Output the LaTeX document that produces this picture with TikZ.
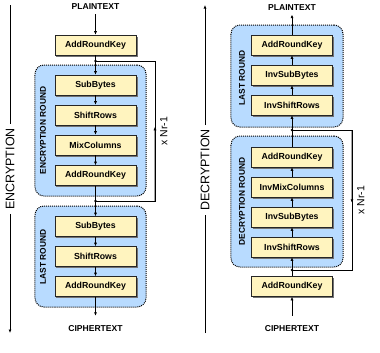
\documentclass[tikz,border=0pt]{standalone}
\usepackage{fontspec}
\setmainfont{Liberation Sans}
\usetikzlibrary{positioning, arrows.meta, calc, shadows}

\definecolor{keyyellow}{RGB}{255,244,191}
\definecolor{roundblue}{RGB}{184,219,255}

\begin{document}
\begin{tikzpicture}[
    x=1bp, y=-1bp,
    >={Latex[length=3.5bp,width=3bp]},
    opbox/.style={
        draw=black!85, line width=0.6bp, fill=keyyellow,
        minimum width=81bp, minimum height=20bp, inner sep=0pt,
        font=\fontsize{8.8}{10}\selectfont\bfseries,
        drop shadow={shadow xshift=1.5bp, shadow yshift=-1.5bp, fill=black!55, opacity=1}
    },
    roundbox/.style={
        draw=black, densely dotted, line width=1bp,
        fill=roundblue, rounded corners=9bp, inner sep=0pt
    },
    roundlbl/.style={rotate=90, font=\fontsize{8.4}{10}\selectfont\bfseries},
    term/.style={font=\fontsize{8.6}{10}\selectfont\bfseries, inner sep=4bp},
    dirlbl/.style={rotate=90, font=\fontsize{12.5}{14}\selectfont, inner sep=4bp},
    arr/.style={->, line width=0.6bp},
    loopline/.style={line width=0.6bp},
    dirline/.style={line width=1bp},
    dot/.style={circle, fill=black, inner sep=0pt, minimum size=2.6bp},
    rep/.style={rotate=90, anchor=north, font=\fontsize{10.5}{12}\selectfont, inner sep=5bp}
]
    \path[use as bounding box, fill=white] (0,0) rectangle (380,353);

    % rounds (background)
    \node[roundbox, minimum width=111bp, minimum height=131bp] (encround) at (90.5,130.5) {};
    \node[roundbox, minimum width=111bp, minimum height=101bp] (elast) at (90.5,256.5) {};
    \node[roundbox, minimum width=112bp, minimum height=102bp] (dlast) at (287,76) {};
    \node[roundbox, minimum width=112bp, minimum height=131bp] (decround) at (287,201.5) {};

    \node[roundlbl] (enclbl) at (43,130.5) {ENCRYPTION ROUND};
    \node[roundlbl] (elastlbl) at (43,257) {LAST ROUND};
    \node[roundlbl] (dlastlbl) at (242,78) {LAST ROUND};
    \node[roundlbl] (declbl) at (242,201.5) {DECRYPTION ROUND};

    % encryption
    \node[term] (eplain) at (95.5,7) {PLAINTEXT};
    \node[opbox] (eark0) at (95.5,45) {AddRoundKey};
    \node[opbox] (esb1) at (95.5,85) {SubBytes};
    \node[opbox] (esr1) at (95.5,115) {ShiftRows};
    \node[opbox] (emc) at (95.5,145) {MixColumns};
    \node[opbox] (eark1) at (95.5,175.5) {AddRoundKey};
    \node[opbox] (esb2) at (95.5,226.5) {SubBytes};
    \node[opbox] (esr2) at (95.5,256.5) {ShiftRows};
    \node[opbox] (eark2) at (95.5,286.5) {AddRoundKey};
    \node[term] (ecipher) at (95.5,329) {CIPHERTEXT};

    \draw[arr] (eplain) -- (eark0);
    \draw[arr] (eark0) -- (esb1);
    \draw[arr] (esb1) -- (esr1);
    \draw[arr] (esr1) -- (emc);
    \draw[arr] (emc) -- (eark1);
    \draw[arr] (eark1) -- (esb2);
    \draw[arr] (esb2) -- (esr2);
    \draw[arr] (esr2) -- (eark2);
    \draw[arr, shorten >=6bp] (eark2) -- (ecipher);

    \coordinate (ej1) at (95.5,61);
    \coordinate (ej2) at (95.5,201);
    \coordinate (elx) at (155,0);
    \draw[loopline] (ej2) -- (ej2 -| elx) -- node[rep] {x Nr-1} (ej1 -| elx) -- (ej1);
    \draw[arr] (ej2 -| elx) -- ($(ej2 -| elx)!0.53!(ej1 -| elx)$);
    \node[dot] (ej1dot) at (ej1) {};
    \node[dot] (ej2dot) at (ej2) {};

    % decryption
    \node[term] (dplain) at (292,7.5) {PLAINTEXT};
    \node[opbox] (dark2) at (292,45) {AddRoundKey};
    \node[opbox] (disb2) at (292,75) {InvSubBytes};
    \node[opbox] (disr2) at (292,105) {InvShiftRows};
    \node[opbox] (dark1) at (292,157) {AddRoundKey};
    \node[opbox] (dimc) at (292,187) {InvMixColumns};
    \node[opbox] (disb1) at (292,217) {InvSubBytes};
    \node[opbox] (disr1) at (292,247) {InvShiftRows};
    \node[opbox] (dark0) at (292,286.5) {AddRoundKey};
    \node[term] (dcipher) at (292,329) {CIPHERTEXT};

    \draw[arr, shorten <=6bp] (dcipher) -- (dark0);
    \draw[arr] (dark0) -- (disr1);
    \draw[arr] (disr1) -- (disb1);
    \draw[arr] (disb1) -- (dimc);
    \draw[arr] (dimc) -- (dark1);
    \draw[arr] (dark1) -- (disr2);
    \draw[arr] (disr2) -- (disb2);
    \draw[arr] (disb2) -- (dark2);
    \draw[arr] (dark2) -- (dplain);

    \coordinate (dj1) at (292,130);
    \coordinate (dj2) at (292,270);
    \coordinate (dlx) at (352,0);
    \draw[loopline] (dj1) -- (dj1 -| dlx) -- node[rep] {x Nr-1} (dj2 -| dlx) -- (dj2);
    \draw[arr] (dj1 -| dlx) -- ($(dj1 -| dlx)!0.52!(dj2 -| dlx)$);
    \node[dot] (dj1dot) at (dj1) {};
    \node[dot] (dj2dot) at (dj2) {};

    % direction arrows
    \node[dirlbl] (enc) at (10,169) {ENCRYPTION};
    \coordinate (etop) at (10,5);
    \coordinate (ebot) at (10,333);
    \draw[dirline] (etop) -- (enc.east);
    \draw[dirline, ->] (enc.west) -- (ebot);

    \node[dirlbl] (dec) at (205,170) {DECRYPTION};
    \coordinate (dtop) at (205,5);
    \coordinate (dbot) at (205,333);
    \draw[dirline] (dbot) -- (dec.west);
    \draw[dirline, ->] (dec.east) -- (dtop);
\end{tikzpicture}
\end{document}
